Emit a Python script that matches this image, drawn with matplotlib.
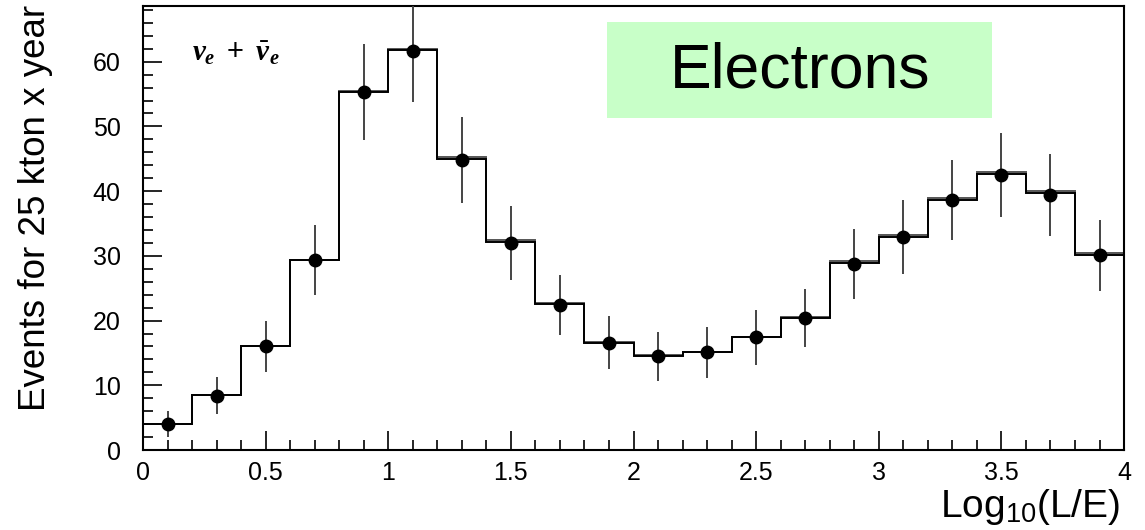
import numpy as np
import matplotlib
matplotlib.use("Agg")
import matplotlib.pyplot as plt
from matplotlib.ticker import MultipleLocator
from matplotlib.patches import Rectangle

plt.rcParams['font.family'] = ['Liberation Sans', 'DejaVu Sans']
plt.rcParams['mathtext.fontset'] = 'custom'
plt.rcParams['mathtext.rm'] = 'Liberation Sans'
plt.rcParams['mathtext.it'] = 'Liberation Serif:italic:bold'
plt.rcParams['mathtext.bf'] = 'Liberation Serif:italic:bold'

# ---- data ----
bin_edges = [0.0, 0.2, 0.4, 0.6, 0.8, 1.0, 1.2, 1.4, 1.6, 1.8, 2.0,
             2.2, 2.4, 2.6, 2.8, 3.0, 3.2, 3.4, 3.6, 3.8, 4.0]
bin_centers = [0.1, 0.3, 0.5, 0.7, 0.9, 1.1, 1.3, 1.5, 1.7, 1.9,
               2.1, 2.3, 2.5, 2.7, 2.9, 3.1, 3.3, 3.5, 3.7, 3.9]
data_values = [4.0, 8.4, 16.0, 29.3, 55.3, 61.7, 44.8, 32.0, 22.4, 16.6,
               14.5, 15.1, 17.4, 20.4, 28.7, 32.9, 38.6, 42.5, 39.4, 30.1]
data_errors = [2.0, 2.9, 4.0, 5.4, 7.4, 7.9, 6.7, 5.7, 4.7, 4.1,
               3.8, 3.9, 4.2, 4.5, 5.4, 5.7, 6.2, 6.5, 6.3, 5.5]
hist_a = [4.05, 8.5, 16.1, 29.4, 55.3, 61.8, 45.0, 32.2, 22.6, 16.6,
          14.6, 15.1, 17.4, 20.4, 28.9, 32.9, 38.7, 42.7, 39.7, 30.1]
hist_b = [4.05, 8.5, 16.1, 29.4, 55.4, 61.9, 45.2, 32.5, 22.7, 16.7,
          14.7, 15.2, 17.5, 20.5, 29.2, 33.2, 39.0, 43.0, 40.0, 30.5]
x_ticks = [0, 0.5, 1, 1.5, 2, 2.5, 3, 3.5, 4]
x_tick_labels = ['0', '0.5', '1', '1.5', '2', '2.5', '3', '3.5', '4']
y_ticks = [0, 10, 20, 30, 40, 50, 60]

fig = plt.figure(figsize=(11.45, 5.30), dpi=100)
ax = fig.add_axes([0.1249, 0.1509, 0.8568, 0.8377])

ax.stairs(hist_b, bin_edges, baseline=None, color='#555555', lw=1.4, zorder=2)
ax.stairs(hist_a, bin_edges, baseline=None, color='black', lw=1.4, zorder=2)
ax.errorbar(bin_centers, data_values, yerr=data_errors, fmt='o', color='black',
            ecolor='#444444', elinewidth=1.4, markersize=9, capsize=0, zorder=3)

ax.set_xlim(0, 4)
ax.set_ylim(0, 68.6)
ax.set_xticks(x_ticks)
ax.set_xticklabels(x_tick_labels)
ax.set_yticks(y_ticks)
ax.xaxis.set_minor_locator(MultipleLocator(0.1))
ax.yaxis.set_minor_locator(MultipleLocator(2))
ax.tick_params(which='both', direction='in', top=False, right=False, labelsize=18, width=1.2)
ax.tick_params(which='major', length=13.5)
ax.tick_params(which='minor', length=7)
ax.tick_params(axis='x', pad=8)
ax.tick_params(axis='y', pad=16)
for s in ax.spines.values():
    s.set_linewidth(1.5)

ax.set_ylabel('Events for 25 kton x year', fontsize=26.5)
ax.yaxis.set_label_coords(-0.092, 0.545)
fig.text(1120/1145, 1 - 517/530, r'Log$_{\mathrm{10}}$(L/E)', fontsize=28, ha='right', va='baseline')

# Electrons box
box = Rectangle((607/1145, 1 - 118/530), (992 - 607)/1145, (118 - 22)/530,
                transform=fig.transFigure, facecolor='#c8ffc8', edgecolor='none', zorder=5)
fig.patches.append(box)
fig.text(800/1145, 1 - 71/530, 'Electrons', fontsize=45, ha='center', va='center', zorder=6)

ax.text(0.2, 61.3, r'$\nu_e\ +\ \bar{\nu}_e$', fontsize=21, ha='left', va='center')

fig.savefig('out.png', dpi=100)
